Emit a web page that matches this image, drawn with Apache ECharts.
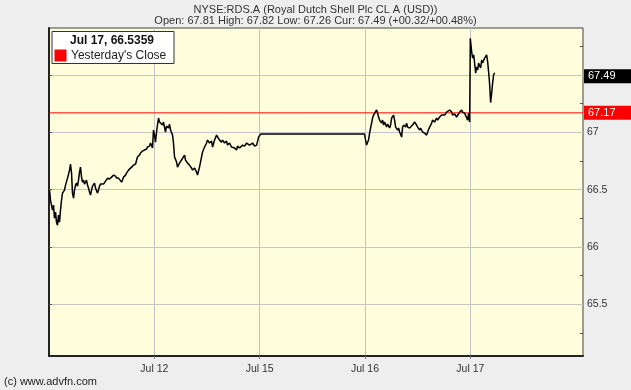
<!DOCTYPE html>
<html>
<head>
<meta charset="utf-8">
<script src="https://cdn.jsdelivr.net/npm/echarts@6/dist/echarts.min.js"></script>
<style>
  html, body { margin: 0; padding: 0; background: #eeeeee; }
  #chart { width: 631px; height: 390px; }
</style>
</head>
<body>
<div id="chart"></div>
<script>
// trading-day units: 0 = Jul 11 open, 1 = Jul 12, 2 = Jul 15, 3 = Jul 16, 4 = Jul 17
const dayTicks = [1, 2, 3, 4]
const dayLabels = ['Jul 12', 'Jul 15', 'Jul 16', 'Jul 17']
const dayMax = 5.07

const priceLabels = [65.5, 66, 66.5, 67]
const priceGrid = [65.5, 66, 66.5, 67, 67.5]
const priceMinor = [65.25, 65.75, 66.25, 66.75, 67.25, 67.75]

const yesterdayClose = 67.17
const current = 67.49

const times = [
  0.005, 0.014, 0.033, 0.043, 0.052, 0.062, 0.071, 0.081, 0.090, 0.100,
  0.109, 0.119, 0.128, 0.147, 0.157, 0.176, 0.195, 0.204, 0.214, 0.223,
  0.233, 0.242, 0.252, 0.261, 0.271, 0.280, 0.290, 0.299, 0.309, 0.318,
  0.328, 0.337, 0.347, 0.356, 0.366, 0.375, 0.385, 0.394, 0.404, 0.413,
  0.423, 0.432, 0.442, 0.451, 0.461, 0.470, 0.480, 0.489, 0.499, 0.518,
  0.527, 0.537, 0.546, 0.556, 0.575, 0.594, 0.613, 0.632, 0.641, 0.660,
  0.670, 0.689, 0.698, 0.708, 0.727, 0.736, 0.755, 0.765, 0.784, 0.793,
  0.803, 0.822, 0.831, 0.840, 0.859, 0.869, 0.878, 0.888, 0.907, 0.926,
  0.935, 0.954, 0.964, 0.983, 0.992, 1.002, 1.011, 1.021, 1.030, 1.040,
  1.049, 1.059, 1.078, 1.087, 1.106, 1.116, 1.135, 1.144, 1.154, 1.173,
  1.182, 1.192, 1.201, 1.211, 1.220, 1.239, 1.258, 1.268, 1.287, 1.296,
  1.315, 1.334, 1.353, 1.363, 1.382, 1.401, 1.410, 1.429, 1.448, 1.458,
  1.477, 1.496, 1.505, 1.524, 1.543, 1.553, 1.572, 1.591, 1.600, 1.619,
  1.638, 1.648, 1.667, 1.686, 1.695, 1.714, 1.733, 1.743, 1.762, 1.781,
  1.790, 1.809, 1.838, 1.857, 1.876, 1.904, 1.933, 1.952, 1.971, 1.980,
  1.990, 2.009, 2.996, 3.006, 3.015, 3.025, 3.034, 3.044, 3.053, 3.063,
  3.072, 3.082, 3.091, 3.110, 3.120, 3.129, 3.139, 3.158, 3.167, 3.177,
  3.186, 3.205, 3.215, 3.234, 3.243, 3.253, 3.272, 3.281, 3.291, 3.310,
  3.319, 3.329, 3.348, 3.357, 3.367, 3.386, 3.395, 3.405, 3.424, 3.433,
  3.452, 3.471, 3.490, 3.500, 3.519, 3.528, 3.547, 3.566, 3.585, 3.595,
  3.614, 3.633, 3.642, 3.661, 3.680, 3.690, 3.709, 3.728, 3.737, 3.756,
  3.775, 3.785, 3.804, 3.823, 3.832, 3.851, 3.870, 3.880, 3.899, 3.918,
  3.927, 3.946, 3.956, 3.975, 3.984, 3.994, 4.000, 4.013, 4.022, 4.032,
  4.041, 4.051, 4.060, 4.070, 4.079, 4.089, 4.098, 4.108, 4.117, 4.136,
  4.155, 4.165, 4.174, 4.184, 4.193, 4.203, 4.212, 4.221, 4.231,
]

const prices = [
  66.497, 66.409, 66.322, 66.366, 66.252, 66.305, 66.217, 66.191, 66.278, 66.217,
  66.322, 66.409, 66.470, 66.497, 66.540, 66.601, 66.671, 66.724, 66.645, 66.470,
  66.427, 66.497, 66.540, 66.558, 66.531, 66.584, 66.654, 66.697, 66.610, 66.566,
  66.584, 66.549, 66.558, 66.584, 66.540, 66.514, 66.479, 66.453, 66.497, 66.531,
  66.540, 66.558, 66.514, 66.531, 66.470, 66.497, 66.531, 66.549, 66.558, 66.549,
  66.566, 66.575, 66.584, 66.601, 66.593, 66.610, 66.627, 66.619, 66.601, 66.601,
  66.584, 66.566, 66.584, 66.610, 66.627, 66.645, 66.671, 66.663, 66.697, 66.689,
  66.715, 66.724, 66.741, 66.785, 66.802, 66.820, 66.828, 66.837, 66.846, 66.854,
  66.872, 66.880, 66.907, 66.863, 67.020, 66.976, 66.915, 67.003, 67.064, 67.125,
  67.090, 67.107, 67.064, 67.090, 67.003, 67.055, 67.038, 67.072, 67.020, 66.976,
  66.907, 66.785, 66.793, 66.741, 66.697, 66.732, 66.759, 66.776, 66.802, 66.759,
  66.732, 66.715, 66.689, 66.671, 66.689, 66.654, 66.627, 66.697, 66.785, 66.828,
  66.872, 66.907, 66.933, 66.907, 66.924, 66.872, 66.933, 66.976, 66.959, 66.933,
  66.915, 66.933, 66.907, 66.924, 66.889, 66.907, 66.872, 66.889, 66.863, 66.846,
  66.880, 66.863, 66.889, 66.880, 66.907, 66.889, 66.907, 66.880, 66.889, 66.872,
  66.959, 66.985, 66.985, 66.933, 66.889, 66.872, 66.933, 66.994, 67.038, 67.081,
  67.125, 67.151, 67.142, 67.195, 67.168, 67.134, 67.107, 67.081, 67.107, 67.064,
  67.090, 67.046, 67.072, 67.038, 67.064, 67.125, 67.151, 67.107, 67.046, 67.020,
  67.038, 67.003, 66.959, 67.046, 67.064, 67.046, 67.081, 67.046, 67.038, 67.055,
  67.064, 67.090, 67.064, 67.046, 67.020, 67.038, 67.003, 66.994, 66.976, 67.003,
  67.046, 67.081, 67.107, 67.090, 67.125, 67.107, 67.134, 67.151, 67.160, 67.151,
  67.177, 67.160, 67.195, 67.177, 67.151, 67.160, 67.134, 67.125, 67.177, 67.195,
  67.177, 67.168, 67.151, 67.107, 67.168, 67.090, 67.820, 67.701, 67.648, 67.675,
  67.605, 67.517, 67.570, 67.544, 67.605, 67.579, 67.561, 67.631, 67.605, 67.648,
  67.675, 67.613, 67.526, 67.413, 67.260, 67.343, 67.430, 67.500, 67.520,
]

const font = '"Liberation Sans", Arial, sans-serif'
const chart = echarts.init(document.getElementById('chart'))

function priceTag(value, bg) {
  return {
    show: true,
    position: 'end',
    formatter: value.toFixed(2),
    color: '#fff',
    backgroundColor: bg,
    fontSize: 11,
    fontFamily: font,
    width: 40,
    padding: [2, 4, 1, 4],
    distance: 1,
  }
}

chart.setOption({
  backgroundColor: '#eeeeee',
  animation: false,
  textStyle: { fontFamily: font },
  grid: {
    left: 49, right: 48, top: 28, bottom: 34,
    show: true,
    backgroundColor: '#fefedc',
    borderColor: '#444',
    borderWidth: 1,
  },
  xAxis: {
    type: 'value',
    min: 0,
    max: dayMax,
    axisLine: { show: true, lineStyle: { color: '#222', width: 2 } },
    axisTick: { show: true, customValues: dayTicks, length: 3, lineStyle: { color: '#777' } },
    axisLabel: {
      customValues: dayTicks,
      formatter: (v) => dayLabels[dayTicks.indexOf(v)] ?? '',
      fontSize: 10.5,
      color: '#333',
      margin: 8,
    },
    splitLine: { show: true, lineStyle: { color: '#c4c4c4', width: 1 } },
  },
  yAxis: [
    {
      type: 'value',
      position: 'right',
      min: 65.05,
      max: 67.91,
      axisLine: { show: true, lineStyle: { color: '#444', width: 1 } },
      axisTick: { show: true, customValues: priceGrid, length: 3, lineStyle: { color: '#555' } },
      axisLabel: {
        customValues: priceLabels,
        fontSize: 10.5,
        color: '#333',
        margin: 4,
      },
      splitLine: { show: true, lineStyle: { color: '#c4c4c4', width: 1 } },
    },
    {
      type: 'value',
      position: 'right',
      min: 65.05,
      max: 67.91,
      axisLine: { show: false },
      axisTick: { show: true, inside: true, customValues: priceMinor, length: 3, lineStyle: { color: '#555' } },
      axisLabel: { show: false },
      splitLine: { show: false },
    },
    {
      type: 'value',
      position: 'left',
      min: 65.05,
      max: 67.91,
      axisLine: { show: true, lineStyle: { color: '#222', width: 2 } },
      axisTick: { show: false },
      axisLabel: { show: false },
      splitLine: { show: false },
    },
  ],
  series: [
    {
      // yesterday's close line across the whole plot
      type: 'line',
      data: [[0, yesterdayClose], [dayMax, yesterdayClose]],
      showSymbol: false,
      color: '#ff0000',
      lineStyle: { color: '#ff0000', width: 1 },
      z: 2,
      markLine: {
        silent: true,
        symbol: 'none',
        animation: false,
        lineStyle: { color: 'rgba(0,0,0,0)', width: 1, type: 'solid' },
        label: priceTag(yesterdayClose, '#ff0000'),
        data: [{ yAxis: yesterdayClose }],
      },
    },
    {
      // current price tag
      type: 'line',
      data: [],
      z: 2,
      markLine: {
        silent: true,
        symbol: 'none',
        animation: false,
        lineStyle: { color: 'rgba(0,0,0,0)', width: 1, type: 'solid' },
        label: priceTag(current, '#000'),
        data: [{ yAxis: current }],
      },
    },
    {
      type: 'line',
      data: times.map((t, i) => [t, prices[i]]),
      showSymbol: false,
      color: '#000',
      lineStyle: { color: '#000', width: 1.5 },
      z: 3,
    },
  ],
  graphic: [
    {
      type: 'text',
      x: 315.5, y: 9.5,
      style: { text: 'NYSE:RDS.A (Royal Dutch Shell Plc CL A (USD))', font: '11px ' + font, fill: '#333', align: 'center', verticalAlign: 'middle' },
    },
    {
      type: 'text',
      x: 315.5, y: 20.5,
      style: { text: 'Open: 67.81 High: 67.82 Low: 67.26 Cur: 67.49 (+00.32/+00.48%)', font: '11px ' + font, fill: '#333', align: 'center', verticalAlign: 'middle' },
    },
    {
      type: 'rect',
      shape: { x: 52, y: 31.5, width: 122, height: 32 },
      style: { fill: '#fff', stroke: '#333', lineWidth: 1 },
      z: 10,
    },
    {
      type: 'text',
      x: 112, y: 40.5,
      style: { text: 'Jul 17, 66.5359', font: 'bold 12px ' + font, fill: '#111', align: 'center', verticalAlign: 'middle' },
      z: 11,
    },
    {
      type: 'rect',
      shape: { x: 54.5, y: 49.5, width: 12, height: 12 },
      style: { fill: '#ff0000' },
      z: 11,
    },
    {
      type: 'text',
      x: 71, y: 56,
      style: { text: "Yesterday's Close", font: '12px ' + font, fill: '#222', verticalAlign: 'middle' },
      z: 11,
    },
    {
      type: 'text',
      x: 4, y: 381.5,
      style: { text: '(c) www.advfn.com', font: '11px ' + font, fill: '#222', verticalAlign: 'middle' },
    },
  ],
})
</script>
</body>
</html>
